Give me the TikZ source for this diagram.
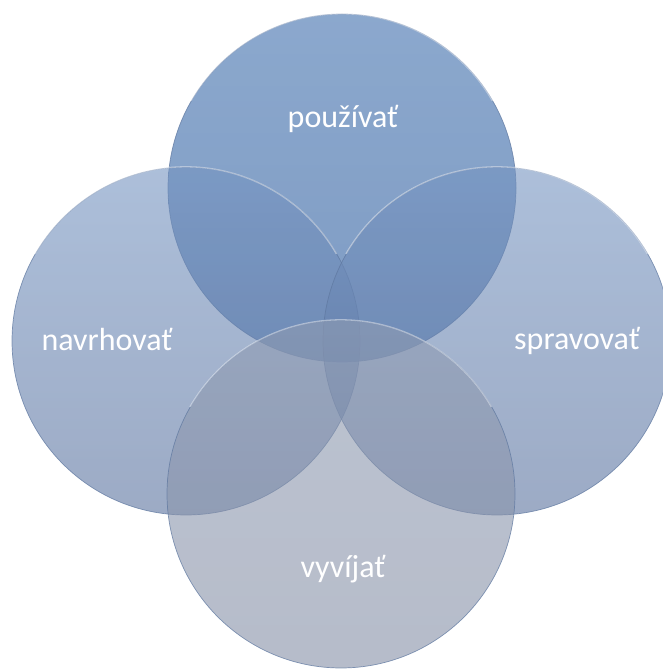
\documentclass[tikz,border=0pt]{standalone}
\usepackage{fontspec}
\setmainfont{Carlito}
\definecolor{vennline}{RGB}{95,120,160}
\definecolor{topA}{RGB}{62,110,172}
\definecolor{topB}{RGB}{40,88,155}
\definecolor{sideA}{RGB}{117,148,193}
\definecolor{sideB}{RGB}{90,114,158}
\definecolor{botA}{RGB}{143,155,178}
\definecolor{botB}{RGB}{133,143,166}
\begin{document}
\begin{tikzpicture}[
  venn/.style={circle, minimum size=348pt, inner sep=0pt, draw=vennline,
    line width=0.7pt, draw opacity=0.75, fill opacity=0.6},
  shine/.style={draw=white, line width=1.3pt, draw opacity=0.45},
  lbl/.style={text=white, font=\fontsize{32}{38}\selectfont, inner sep=0pt, anchor=base}
]
\useasboundingbox (0,0) rectangle (663pt,669pt);
\clip (0,0) rectangle (663pt,669pt);
% circles (image y -> 669 - y)
\node[venn, top color=topA, bottom color=topB] (ctop) at (342pt,481pt) {};
\draw[shine] (ctop.150) arc[start angle=150, end angle=30, radius=174pt];
\node[venn, top color=sideA, bottom color=sideB] (cleft) at (186pt,328pt) {};
\draw[shine] (cleft.150) arc[start angle=150, end angle=30, radius=174pt];
\node[venn, top color=sideA, bottom color=sideB] (cright) at (497pt,328pt) {};
\draw[shine] (cright.150) arc[start angle=150, end angle=30, radius=174pt];
\node[venn, top color=botA, bottom color=botB] (cbot) at (341pt,175pt) {};
\draw[shine] (cbot.150) arc[start angle=150, end angle=30, radius=174pt];
% labels
\node[lbl] (ltop) at (343pt,541pt) {používať};
\node[lbl] (lleft) at (107pt,318pt) {navrhovať};
\node[lbl] (lright) at (577pt,319pt) {spravovať};
\node[lbl] (lbot) at (343pt,91pt) {vyvíjať};
\end{tikzpicture}
\end{document}
